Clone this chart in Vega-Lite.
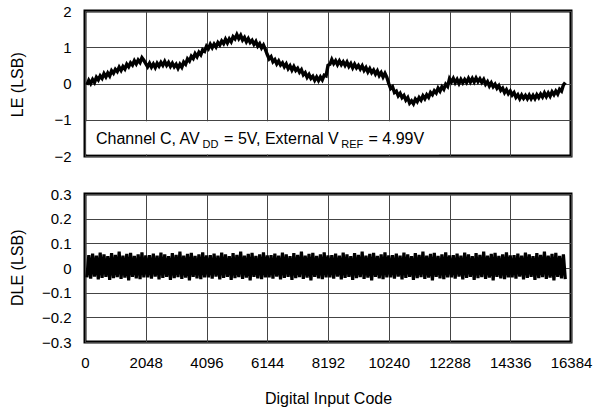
{
  "$schema": "https://vega.github.io/schema/vega-lite/v6.json",
  "padding": {"left": 7, "top": 2, "right": 0, "bottom": 0},
  "spacing": 19,
  "background": "#ffffff",
  "config": {
    "font": "Liberation Sans",
    "view": {"stroke": "#000000", "strokeWidth": 3},
    "axis": {
      "grid": true, "gridColor": "#444444", "gridWidth": 1, "gridOpacity": 1,
      "domain": false, "ticks": false, "labelOverlap": false, "labelFlush": false,
      "labelFontSize": 15, "labelColor": "#000000", "labelPadding": 14,
      "titleFontSize": 16, "titleFontWeight": "normal", "titleColor": "#000000"
    },
    "axisLeft": {"titleX": -68, "titleY": 73.25, "titleBaseline": "middle", "titleAngle": 270},
    "axisBottom": {"labelPadding": 13, "titleX": 243, "titleY": 56, "titleBaseline": "middle"}
  },
  "datasets": {
    "d": [
{"c":64,"le":-0.04,"dle":-0.038},{"c":128,"le":0.09,"dle":0.052},{"c":192,"le":0.00,"dle":-0.043},{"c":256,"le":0.11,"dle":0.058},
{"c":320,"le":0.03,"dle":-0.035},{"c":384,"le":0.17,"dle":0.05},{"c":448,"le":0.10,"dle":-0.046},{"c":512,"le":0.21,"dle":0.062},
{"c":576,"le":0.14,"dle":-0.04},{"c":640,"le":0.27,"dle":0.055},{"c":704,"le":0.18,"dle":-0.036},{"c":768,"le":0.29,"dle":0.048},
{"c":832,"le":0.21,"dle":-0.048},{"c":896,"le":0.35,"dle":0.06},{"c":960,"le":0.28,"dle":-0.041},{"c":1024,"le":0.39,"dle":0.053},
{"c":1088,"le":0.33,"dle":-0.037},{"c":1152,"le":0.45,"dle":0.066},{"c":1216,"le":0.36,"dle":-0.044},{"c":1280,"le":0.47,"dle":0.05},
{"c":1344,"le":0.40,"dle":-0.039},{"c":1408,"le":0.53,"dle":0.057},{"c":1472,"le":0.46,"dle":-0.05},{"c":1536,"le":0.57,"dle":0.061},
{"c":1600,"le":0.51,"dle":-0.036},{"c":1664,"le":0.63,"dle":0.049},{"c":1728,"le":0.54,"dle":-0.042},{"c":1792,"le":0.65,"dle":0.055},
{"c":1856,"le":0.58,"dle":-0.045},{"c":1920,"le":0.71,"dle":0.063},{"c":1984,"le":0.64,"dle":-0.038},{"c":2048,"le":0.55,"dle":0.051},
{"c":2112,"le":0.46,"dle":-0.038},{"c":2176,"le":0.56,"dle":0.052},{"c":2240,"le":0.45,"dle":-0.043},{"c":2304,"le":0.54,"dle":0.058},
{"c":2368,"le":0.44,"dle":-0.035},{"c":2432,"le":0.56,"dle":0.05},{"c":2496,"le":0.48,"dle":-0.046},{"c":2560,"le":0.58,"dle":0.062},
{"c":2624,"le":0.50,"dle":-0.04},{"c":2688,"le":0.61,"dle":0.055},{"c":2752,"le":0.50,"dle":-0.036},{"c":2816,"le":0.58,"dle":0.048},
{"c":2880,"le":0.47,"dle":-0.048},{"c":2944,"le":0.56,"dle":0.06},{"c":3008,"le":0.46,"dle":-0.041},{"c":3072,"le":0.53,"dle":0.053},
{"c":3136,"le":0.42,"dle":-0.037},{"c":3200,"le":0.53,"dle":0.066},{"c":3264,"le":0.45,"dle":-0.044},{"c":3328,"le":0.59,"dle":0.05},
{"c":3392,"le":0.53,"dle":-0.039},{"c":3456,"le":0.68,"dle":0.057},{"c":3520,"le":0.62,"dle":-0.05},{"c":3584,"le":0.75,"dle":0.061},
{"c":3648,"le":0.69,"dle":-0.036},{"c":3712,"le":0.82,"dle":0.049},{"c":3776,"le":0.74,"dle":-0.042},{"c":3840,"le":0.86,"dle":0.055},
{"c":3904,"le":0.79,"dle":-0.045},{"c":3968,"le":0.93,"dle":0.063},{"c":4032,"le":0.89,"dle":-0.038},{"c":4096,"le":1.03,"dle":0.051},
{"c":4160,"le":0.96,"dle":-0.038},{"c":4224,"le":1.08,"dle":0.052},{"c":4288,"le":0.99,"dle":-0.043},{"c":4352,"le":1.09,"dle":0.058},
{"c":4416,"le":1.01,"dle":-0.035},{"c":4480,"le":1.13,"dle":0.05},{"c":4544,"le":1.06,"dle":-0.046},{"c":4608,"le":1.17,"dle":0.062},
{"c":4672,"le":1.10,"dle":-0.04},{"c":4736,"le":1.22,"dle":0.055},{"c":4800,"le":1.12,"dle":-0.036},{"c":4864,"le":1.23,"dle":0.048},
{"c":4928,"le":1.15,"dle":-0.048},{"c":4992,"le":1.29,"dle":0.06},{"c":5056,"le":1.23,"dle":-0.041},{"c":5120,"le":1.35,"dle":0.053},
{"c":5184,"le":1.24,"dle":-0.037},{"c":5248,"le":1.33,"dle":0.066},{"c":5312,"le":1.20,"dle":-0.044},{"c":5376,"le":1.27,"dle":0.05},
{"c":5440,"le":1.15,"dle":-0.039},{"c":5504,"le":1.24,"dle":0.057},{"c":5568,"le":1.13,"dle":-0.05},{"c":5632,"le":1.19,"dle":0.061},
{"c":5696,"le":1.08,"dle":-0.036},{"c":5760,"le":1.16,"dle":0.049},{"c":5824,"le":1.03,"dle":-0.042},{"c":5888,"le":1.10,"dle":0.055},
{"c":5952,"le":0.98,"dle":-0.045},{"c":6016,"le":1.06,"dle":0.063},{"c":6080,"le":0.94,"dle":-0.038},{"c":6144,"le":0.80,"dle":0.051},
{"c":6208,"le":0.68,"dle":-0.038},{"c":6272,"le":0.74,"dle":0.052},{"c":6336,"le":0.60,"dle":-0.043},{"c":6400,"le":0.66,"dle":0.058},
{"c":6464,"le":0.54,"dle":-0.035},{"c":6528,"le":0.62,"dle":0.05},{"c":6592,"le":0.51,"dle":-0.046},{"c":6656,"le":0.57,"dle":0.062},
{"c":6720,"le":0.46,"dle":-0.04},{"c":6784,"le":0.54,"dle":0.055},{"c":6848,"le":0.41,"dle":-0.036},{"c":6912,"le":0.49,"dle":0.048},
{"c":6976,"le":0.37,"dle":-0.048},{"c":7040,"le":0.47,"dle":0.06},{"c":7104,"le":0.36,"dle":-0.041},{"c":7168,"le":0.42,"dle":0.053},
{"c":7232,"le":0.31,"dle":-0.037},{"c":7296,"le":0.38,"dle":0.066},{"c":7360,"le":0.24,"dle":-0.044},{"c":7424,"le":0.30,"dle":0.05},
{"c":7488,"le":0.17,"dle":-0.039},{"c":7552,"le":0.25,"dle":0.057},{"c":7616,"le":0.14,"dle":-0.05},{"c":7680,"le":0.20,"dle":0.061},
{"c":7744,"le":0.09,"dle":-0.036},{"c":7808,"le":0.18,"dle":0.049},{"c":7872,"le":0.08,"dle":-0.042},{"c":7936,"le":0.18,"dle":0.055},
{"c":8000,"le":0.10,"dle":-0.045},{"c":8064,"le":0.23,"dle":0.063},{"c":8128,"le":0.21,"dle":-0.038},{"c":8192,"le":0.50,"dle":0.051},
{"c":8256,"le":0.53,"dle":-0.038},{"c":8320,"le":0.66,"dle":0.052},{"c":8384,"le":0.55,"dle":-0.043},{"c":8448,"le":0.63,"dle":0.058},
{"c":8512,"le":0.52,"dle":-0.035},{"c":8576,"le":0.62,"dle":0.05},{"c":8640,"le":0.52,"dle":-0.046},{"c":8704,"le":0.60,"dle":0.062},
{"c":8768,"le":0.50,"dle":-0.04},{"c":8832,"le":0.59,"dle":0.055},{"c":8896,"le":0.47,"dle":-0.036},{"c":8960,"le":0.55,"dle":0.048},
{"c":9024,"le":0.43,"dle":-0.048},{"c":9088,"le":0.53,"dle":0.06},{"c":9152,"le":0.43,"dle":-0.041},{"c":9216,"le":0.50,"dle":0.053},
{"c":9280,"le":0.40,"dle":-0.037},{"c":9344,"le":0.49,"dle":0.066},{"c":9408,"le":0.36,"dle":-0.044},{"c":9472,"le":0.44,"dle":0.05},
{"c":9536,"le":0.32,"dle":-0.039},{"c":9600,"le":0.41,"dle":0.057},{"c":9664,"le":0.30,"dle":-0.05},{"c":9728,"le":0.37,"dle":0.061},
{"c":9792,"le":0.26,"dle":-0.036},{"c":9856,"le":0.35,"dle":0.049},{"c":9920,"le":0.22,"dle":-0.042},{"c":9984,"le":0.30,"dle":0.055},
{"c":10048,"le":0.18,"dle":-0.045},{"c":10112,"le":0.28,"dle":0.063},{"c":10176,"le":0.17,"dle":-0.038},{"c":10240,"le":0.00,"dle":0.051},
{"c":10304,"le":-0.14,"dle":-0.038},{"c":10368,"le":-0.09,"dle":0.052},{"c":10432,"le":-0.25,"dle":-0.043},{"c":10496,"le":-0.21,"dle":0.058},
{"c":10560,"le":-0.34,"dle":-0.035},{"c":10624,"le":-0.27,"dle":0.05},{"c":10688,"le":-0.39,"dle":-0.046},{"c":10752,"le":-0.33,"dle":0.062},
{"c":10816,"le":-0.46,"dle":-0.04},{"c":10880,"le":-0.39,"dle":0.055},{"c":10944,"le":-0.54,"dle":-0.036},{"c":11008,"le":-0.48,"dle":0.048},
{"c":11072,"le":-0.56,"dle":-0.048},{"c":11136,"le":-0.43,"dle":0.06},{"c":11200,"le":-0.50,"dle":-0.041},{"c":11264,"le":-0.39,"dle":0.053},
{"c":11328,"le":-0.46,"dle":-0.037},{"c":11392,"le":-0.34,"dle":0.066},{"c":11456,"le":-0.42,"dle":-0.044},{"c":11520,"le":-0.31,"dle":0.05},
{"c":11584,"le":-0.38,"dle":-0.039},{"c":11648,"le":-0.25,"dle":0.057},{"c":11712,"le":-0.31,"dle":-0.05},{"c":11776,"le":-0.20,"dle":0.061},
{"c":11840,"le":-0.26,"dle":-0.036},{"c":11904,"le":-0.13,"dle":0.049},{"c":11968,"le":-0.21,"dle":-0.042},{"c":12032,"le":-0.09,"dle":0.055},
{"c":12096,"le":-0.16,"dle":-0.045},{"c":12160,"le":-0.02,"dle":0.063},{"c":12224,"le":-0.08,"dle":-0.038},{"c":12288,"le":0.13,"dle":0.051},
{"c":12352,"le":0.04,"dle":-0.038},{"c":12416,"le":0.14,"dle":0.052},{"c":12480,"le":0.02,"dle":-0.043},{"c":12544,"le":0.11,"dle":0.058},
{"c":12608,"le":0.00,"dle":-0.035},{"c":12672,"le":0.11,"dle":0.05},{"c":12736,"le":0.02,"dle":-0.046},{"c":12800,"le":0.11,"dle":0.062},
{"c":12864,"le":0.03,"dle":-0.04},{"c":12928,"le":0.14,"dle":0.055},{"c":12992,"le":0.04,"dle":-0.036},{"c":13056,"le":0.14,"dle":0.048},
{"c":13120,"le":0.04,"dle":-0.048},{"c":13184,"le":0.15,"dle":0.06},{"c":13248,"le":0.05,"dle":-0.041},{"c":13312,"le":0.13,"dle":0.053},
{"c":13376,"le":0.03,"dle":-0.037},{"c":13440,"le":0.11,"dle":0.066},{"c":13504,"le":-0.02,"dle":-0.044},{"c":13568,"le":0.05,"dle":0.05},
{"c":13632,"le":-0.07,"dle":-0.039},{"c":13696,"le":0.02,"dle":0.057},{"c":13760,"le":-0.09,"dle":-0.05},{"c":13824,"le":-0.02,"dle":0.061},
{"c":13888,"le":-0.13,"dle":-0.036},{"c":13952,"le":-0.06,"dle":0.049},{"c":14016,"le":-0.19,"dle":-0.042},{"c":14080,"le":-0.13,"dle":0.055},
{"c":14144,"le":-0.25,"dle":-0.045},{"c":14208,"le":-0.17,"dle":0.063},{"c":14272,"le":-0.28,"dle":-0.038},{"c":14336,"le":-0.21,"dle":0.051},
{"c":14400,"le":-0.32,"dle":-0.038},{"c":14464,"le":-0.25,"dle":0.052},{"c":14528,"le":-0.38,"dle":-0.043},{"c":14592,"le":-0.31,"dle":0.058},
{"c":14656,"le":-0.42,"dle":-0.035},{"c":14720,"le":-0.32,"dle":0.05},{"c":14784,"le":-0.41,"dle":-0.046},{"c":14848,"le":-0.33,"dle":0.062},
{"c":14912,"le":-0.42,"dle":-0.04},{"c":14976,"le":-0.32,"dle":0.055},{"c":15040,"le":-0.42,"dle":-0.036},{"c":15104,"le":-0.33,"dle":0.048},
{"c":15168,"le":-0.42,"dle":-0.048},{"c":15232,"le":-0.31,"dle":0.06},{"c":15296,"le":-0.39,"dle":-0.041},{"c":15360,"le":-0.29,"dle":0.053},
{"c":15424,"le":-0.37,"dle":-0.037},{"c":15488,"le":-0.26,"dle":0.066},{"c":15552,"le":-0.36,"dle":-0.044},{"c":15616,"le":-0.26,"dle":0.05},
{"c":15680,"le":-0.35,"dle":-0.039},{"c":15744,"le":-0.23,"dle":0.057},{"c":15808,"le":-0.31,"dle":-0.05},{"c":15872,"le":-0.21,"dle":0.061},
{"c":15936,"le":-0.29,"dle":-0.036},{"c":16000,"le":-0.16,"dle":0.049},{"c":16064,"le":-0.21,"dle":-0.042},{"c":16128,"le":-0.04,"dle":0.055},
{"c":16192,"le":0.03,"dle":-0.045}
    ]
  },
  "data": {"name": "d"},
  "vconcat": [
    {
      "width": 486,
      "height": 145,
      "layer": [
        {
          "mark": {"type": "line", "color": "#000000", "strokeWidth": 3.4},
          "encoding": {
            "x": {
              "field": "c", "type": "quantitative",
              "scale": {"domain": [0, 16384], "nice": false, "zero": false},
              "axis": {"values": [0, 2048, 4096, 6144, 8192, 10240, 12288, 14336, 16384], "labels": false, "title": null}
            },
            "y": {
              "field": "le", "type": "quantitative",
              "scale": {"domain": [-2, 2], "nice": false},
              "axis": {"values": [-2, -1, 0, 1, 2], "format": "d", "title": "LE (LSB)"}
            }
          }
        },
        {
          "data": {"values": [{}]},
          "mark": {"type": "rect", "fill": "#ffffff"},
          "encoding": {
            "x": {"datum": 40, "type": "quantitative", "axis": {"values": [0, 2048, 4096, 6144, 8192, 10240, 12288, 14336, 16384], "labels": false, "title": null}},
            "x2": {"datum": 11930},
            "y": {"datum": -1.04, "type": "quantitative", "axis": {"values": [-2, -1, 0, 1, 2], "format": "d", "title": "LE (LSB)"}},
            "y2": {"datum": -1.95}
          }
        },
        {
          "data": {"values": [{}]},
          "mark": {"type": "text", "text": "Channel C, AV", "align": "left", "baseline": "alphabetic", "fontSize": 16, "color": "#000000"},
          "encoding": {
            "x": {"datum": 371, "type": "quantitative", "axis": {"values": [0, 2048, 4096, 6144, 8192, 10240, 12288, 14336, 16384], "labels": false, "title": null}},
            "y": {"datum": -1.67, "type": "quantitative", "axis": {"values": [-2, -1, 0, 1, 2], "format": "d", "title": "LE (LSB)"}}
          }
        },
        {
          "data": {"values": [{}]},
          "mark": {"type": "text", "text": "DD", "align": "left", "baseline": "alphabetic", "fontSize": 11, "dy": 4, "color": "#000000"},
          "encoding": {
            "x": {"datum": 3960, "type": "quantitative", "axis": {"values": [0, 2048, 4096, 6144, 8192, 10240, 12288, 14336, 16384], "labels": false, "title": null}},
            "y": {"datum": -1.67, "type": "quantitative", "axis": {"values": [-2, -1, 0, 1, 2], "format": "d", "title": "LE (LSB)"}}
          }
        },
        {
          "data": {"values": [{}]},
          "mark": {"type": "text", "text": "= 5V, External V", "align": "left", "baseline": "alphabetic", "fontSize": 16, "color": "#000000"},
          "encoding": {
            "x": {"datum": 4690, "type": "quantitative", "axis": {"values": [0, 2048, 4096, 6144, 8192, 10240, 12288, 14336, 16384], "labels": false, "title": null}},
            "y": {"datum": -1.67, "type": "quantitative", "axis": {"values": [-2, -1, 0, 1, 2], "format": "d", "title": "LE (LSB)"}}
          }
        },
        {
          "data": {"values": [{}]},
          "mark": {"type": "text", "text": "REF", "align": "left", "baseline": "alphabetic", "fontSize": 11, "dy": 4, "color": "#000000"},
          "encoding": {
            "x": {"datum": 8640, "type": "quantitative", "axis": {"values": [0, 2048, 4096, 6144, 8192, 10240, 12288, 14336, 16384], "labels": false, "title": null}},
            "y": {"datum": -1.67, "type": "quantitative", "axis": {"values": [-2, -1, 0, 1, 2], "format": "d", "title": "LE (LSB)"}}
          }
        },
        {
          "data": {"values": [{}]},
          "mark": {"type": "text", "text": "= 4.99V", "align": "left", "baseline": "alphabetic", "fontSize": 16, "color": "#000000"},
          "encoding": {
            "x": {"datum": 9560, "type": "quantitative", "axis": {"values": [0, 2048, 4096, 6144, 8192, 10240, 12288, 14336, 16384], "labels": false, "title": null}},
            "y": {"datum": -1.67, "type": "quantitative", "axis": {"values": [-2, -1, 0, 1, 2], "format": "d", "title": "LE (LSB)"}}
          }
        }
      ]
    },
    {
      "width": 486,
      "height": 148,
      "mark": {"type": "line", "color": "#000000", "strokeWidth": 3.2},
      "encoding": {
        "x": {
          "field": "c", "type": "quantitative",
          "scale": {"domain": [0, 16384], "nice": false, "zero": false},
          "axis": {"values": [0, 2048, 4096, 6144, 8192, 10240, 12288, 14336, 16384], "format": "d", "title": "Digital Input Code"}
        },
        "y": {
          "field": "dle", "type": "quantitative",
          "scale": {"domain": [-0.3, 0.3], "nice": false},
          "axis": {"values": [-0.3, -0.2, -0.1, 0, 0.1, 0.2, 0.3], "format": ".1~f", "title": "DLE (LSB)"}
        }
      }
    }
  ]
}
